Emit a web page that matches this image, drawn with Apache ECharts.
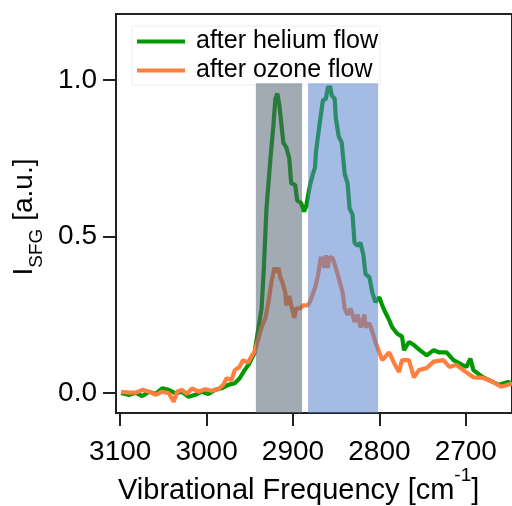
<!DOCTYPE html>
<html><head><meta charset="utf-8">
<script src="https://cdn.jsdelivr.net/npm/echarts@6/dist/echarts.min.js"></script>
<style>html,body{margin:0;padding:0;background:#fff}#c{width:512px;height:506px}</style>
</head><body><div id="c"></div>
<script>
const greenFreq=[3099,3089.7,3082,3074.3,3066.8,3059,3051.4,3043.8,3036,3028.5,3020.9,3013.2,3005.6,2998,2990.3,2982.6,2975,2967.4,2961.7,2956,2950.2,2944.5,2939.9,2936.4,2934.1,2930.7,2926.1,2922.7,2920.4,2918.1,2915.8,2913.5,2911.2,2907.8,2904.3,2902.1,2897.5,2895.2,2890.6,2887.2,2884.9,2882.6,2880.3,2876.9,2874.6,2873.4,2871.1,2867.7,2865.4,2862,2859.7,2857.4,2855.1,2851.7,2850.5,2847.1,2843.6,2840.2,2836.8,2834.5,2831.1,2828.8,2825.3,2821.9,2818.5,2816.1,2811.6,2808.1,2804.7,2800.1,2796.7,2794.4,2788.7,2785.2,2779.5,2773.8,2771.5,2765.8,2760,2753.2,2745.2,2737.2,2731.4,2722.2,2714.2,2699.3,2694.7,2691.2,2679.8,2668.3,2661.5,2651.1,2646.5];
const greenVal=[0.0,-0.006,0.0,-0.01,0.004,-0.003,0.015,0.01,-0.001,0.004,-0.012,-0.006,0.004,-0.003,0.01,0.015,0.026,0.031,0.047,0.073,0.096,0.128,0.21,0.27,0.38,0.59,0.75,0.855,0.94,0.957,0.92,0.925,0.80,0.785,0.75,0.67,0.665,0.615,0.607,0.58,0.595,0.63,0.665,0.70,0.72,0.77,0.82,0.89,0.935,0.94,0.975,0.985,0.95,0.94,0.88,0.82,0.80,0.70,0.67,0.59,0.57,0.48,0.47,0.48,0.44,0.38,0.37,0.32,0.29,0.306,0.28,0.265,0.233,0.21,0.19,0.18,0.137,0.163,0.153,0.137,0.12,0.137,0.13,0.13,0.105,0.083,0.11,0.073,0.05,0.035,0.026,0.035,0.03];
const orangeFreq=[3099,3089.7,3082,3074.3,3066.8,3059,3051.4,3043.8,3038.1,3034.2,3028.5,3022.8,3017,3009.5,3001.8,2994.1,2986.5,2980.8,2976.9,2971.2,2967.4,2961.7,2957.9,2952.1,2948.3,2944.5,2939.9,2936.4,2931.9,2928.4,2925,2921.5,2919.2,2916.9,2914.6,2912.4,2908.9,2907.8,2904.3,2902.1,2898.6,2896.3,2891.7,2888.3,2882.6,2879.2,2874.6,2871.1,2867.7,2863.1,2862,2859.7,2857.4,2854,2850.5,2845.9,2842.5,2840.2,2836.8,2833.3,2828.8,2825.3,2821.9,2817.3,2816.1,2811.6,2808.1,2804.7,2802.4,2796.7,2788.7,2783,2777.3,2773.8,2765.8,2760,2754.3,2745.2,2737.2,2725.7,2718.9,2710.9,2702.9,2691.2,2679.8,2668.3,2659.1,2651.1,2646.5];
const orangeVal=[0.004,0.001,0.001,0.01,0.004,-0.006,0.004,-0.001,-0.028,0.004,0.01,-0.003,0.015,0.004,0.012,0.007,0.012,0.026,0.047,0.041,0.073,0.084,0.105,0.097,0.116,0.132,0.175,0.21,0.24,0.29,0.355,0.40,0.385,0.40,0.37,0.355,0.32,0.28,0.31,0.28,0.24,0.27,0.27,0.28,0.28,0.30,0.335,0.375,0.435,0.40,0.44,0.40,0.435,0.43,0.40,0.355,0.32,0.27,0.25,0.27,0.227,0.25,0.21,0.25,0.21,0.223,0.195,0.163,0.16,0.105,0.13,0.096,0.067,0.105,0.105,0.05,0.073,0.08,0.1,0.105,0.083,0.09,0.073,0.05,0.048,0.035,0.02,0.026,0.03];
const seriesNames=['after helium flow','after ozone flow'];
const xTicks=[3100,3000,2900,2800,2700];
const yTicks=[0,0.5,1.0];
const shadeFrom=[2943,2882.6];
const shadeTo=[2889.5,2801.5];
const shadeTop=0.99;
const xMin=2646.5,xMax=3104.9,yMin=-0.064,yMax=1.211;

const FONT='"Liberation Sans", Arial, Helvetica, sans-serif';
const zip=(a,b)=>a.slice(0,Math.min(a.length,b.length)).map((v,i)=>[v,b[i]]);
const shadeColors=['rgba(79,94,114,0.53)','rgba(83,126,202,0.53)'];
const lineIcon='path://M0 0H48V4H0Z';

const chart=echarts.init(document.getElementById('c'),null,{renderer:'canvas'});
chart.setOption({
  animation:false,
  backgroundColor:'#fff',
  grid:{left:116,top:14,right:-4,bottom:93,show:true,borderColor:'#222',borderWidth:2,backgroundColor:'transparent'},
  legend:{
    orient:'vertical',left:132,top:26,padding:[3,2,2,5],itemWidth:48,itemHeight:4,itemGap:4,
    backgroundColor:'#fff',borderColor:'#eeeeee',borderWidth:1,
    textStyle:{fontSize:25,color:'#000',fontFamily:FONT,padding:[0,0,0,6]},
    data:seriesNames.map(n=>({name:n,icon:lineIcon}))
  },
  xAxis:{
    type:'value',inverse:true,min:xMin,max:xMax,
    axisLine:{show:true,onZero:false,lineStyle:{color:'#222',width:2}},
    axisTick:{show:true,customValues:xTicks,length:13,lineStyle:{color:'#222',width:2}},
    axisLabel:{customValues:xTicks,margin:25,color:'#000',fontSize:28,fontFamily:FONT,formatter:v=>String(v)},
    splitLine:{show:false}
  },
  yAxis:{
    type:'value',min:yMin,max:yMax,
    axisLine:{show:true,onZero:false,lineStyle:{color:'#222',width:2}},
    axisTick:{show:true,customValues:yTicks,length:13,lineStyle:{color:'#222',width:2}},
    axisLabel:{customValues:yTicks,margin:19,color:'#000',fontSize:28,fontFamily:FONT,formatter:v=>v.toFixed(1)},
    splitLine:{show:false}
  },
  series:[
    {name:seriesNames[0],type:'line',data:zip(greenFreq,greenVal),showSymbol:false,symbol:'none',z:2,
     lineStyle:{color:'#009a00',width:4.2},itemStyle:{color:'#009a00'}},
    {name:seriesNames[1],type:'line',data:zip(orangeFreq,orangeVal),showSymbol:false,symbol:'none',z:2,
     lineStyle:{color:'#ff7f3f',width:4.2},itemStyle:{color:'#ff7f3f'}},
    {name:'shade',type:'line',data:[],silent:true,z:10,
     markArea:{silent:true,z:10,
       data:shadeFrom.map((f,i)=>[{xAxis:f,yAxis:yMin,itemStyle:{color:shadeColors[i]}},{xAxis:shadeTo[i],yAxis:shadeTop}])}}
  ],
  graphic:[
    {type:'text',x:118,y:466,silent:true,
     style:{text:'{m|Vibrational Frequency [cm}{s|-1}{m|]}',fill:'#000',
       rich:{m:{fontSize:29,lineHeight:39,fontFamily:FONT,verticalAlign:'bottom',fill:'#000'},
             s:{fontSize:19,lineHeight:10,fontFamily:FONT,verticalAlign:'top',fill:'#000'}}}},
    {type:'text',x:28.5,y:217,rotation:Math.PI/2,silent:true,
     style:{text:'{m|I}{s|SFG}{m| [a.u.]}',fill:'#000',align:'center',verticalAlign:'middle',
       rich:{m:{fontSize:28,lineHeight:28,fontFamily:FONT,verticalAlign:'top',fill:'#000'},
             s:{fontSize:19,lineHeight:36.5,fontFamily:FONT,verticalAlign:'bottom',fill:'#000'}}}}
  ]
});
</script></body></html>
